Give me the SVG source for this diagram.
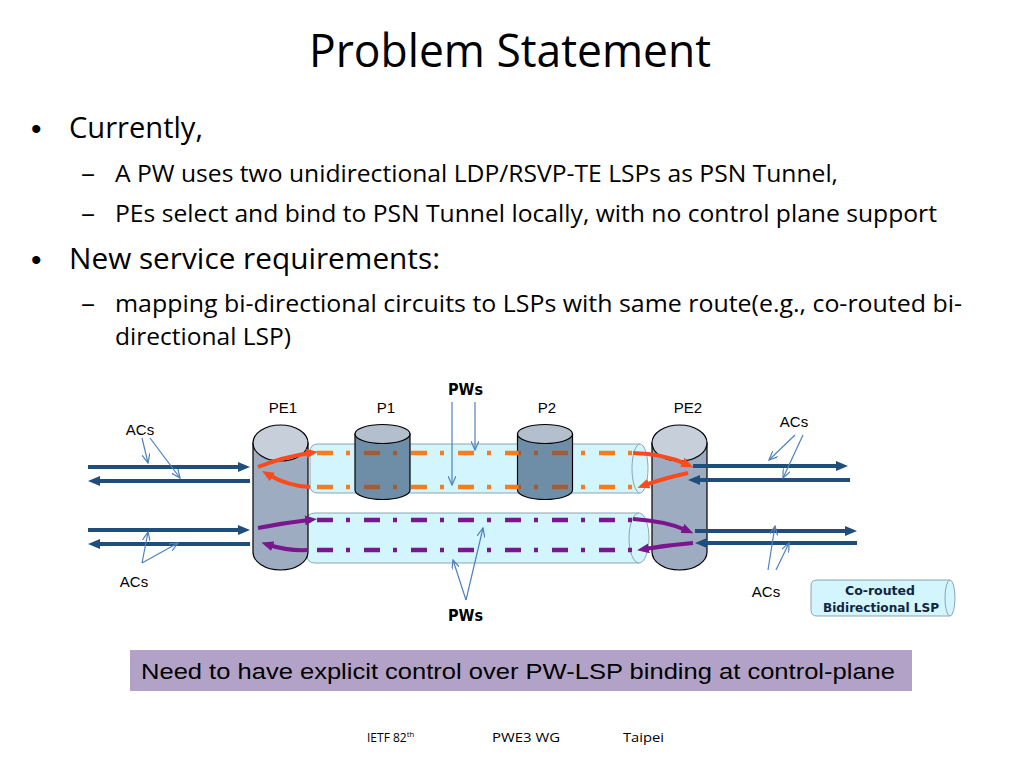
<svg xmlns="http://www.w3.org/2000/svg" width="1024" height="768" viewBox="0 0 1024 768">
<style>
.cal{font-family:"Open Sans","Liberation Sans",sans-serif;fill:#000}
.bul{font-family:"Liberation Sans",Arial,sans-serif;font-size:30px;fill:#000}
.lbl{font-family:"Liberation Sans",Arial,sans-serif;font-size:15px;fill:#000}
.pw{font-family:"DejaVu Sans","Liberation Sans",sans-serif;font-size:15px;font-weight:bold;fill:#000}
.cyl{stroke:#000;stroke-width:1.2}
.tube{fill:#d3f5fd;stroke:#7f9bab;stroke-width:0.9}
.ac{stroke:#1f4e7d;stroke-width:4;fill:none;marker-end:url(#mAC)}
.ptr{stroke:#4f81bd;stroke-width:1.2;fill:none;marker-end:url(#mPtr)}
.or{stroke:#f57d1f;stroke-width:4.5;fill:none;stroke-dasharray:16 13 4 14}
.br{stroke:#9a5e3c;stroke-width:4.5;fill:none;stroke-dasharray:16 13 4 14}
.pu{stroke:#7a168e;stroke-width:4.5;fill:none;stroke-dasharray:16 13 4 14}
.oa{stroke:#fb4a1c;stroke-width:4;fill:none;marker-end:url(#mOr)}
.pa{stroke:#7a168e;stroke-width:4;fill:none;marker-end:url(#mPu)}
</style>
<defs>
<marker id="mAC" viewBox="0 0 12 10" refX="4" refY="5" markerWidth="12" markerHeight="10" markerUnits="userSpaceOnUse" orient="auto"><path d="M0,0 L12,5 L0,10 Z" fill="#1f4e7d"/></marker>
<marker id="mOr" viewBox="0 0 12 10" refX="4" refY="5" markerWidth="12" markerHeight="10" markerUnits="userSpaceOnUse" orient="auto"><path d="M0,0 L12,5 L0,10 Z" fill="#fb4a1c"/></marker>
<marker id="mPu" viewBox="0 0 12 10" refX="4" refY="5" markerWidth="12" markerHeight="10" markerUnits="userSpaceOnUse" orient="auto"><path d="M0,0 L12,5 L0,10 Z" fill="#7a168e"/></marker>
<marker id="mPtr" viewBox="0 0 10 8" refX="9" refY="4" markerWidth="10" markerHeight="8" markerUnits="userSpaceOnUse" orient="auto"><path d="M0,0 L9,4 L0,8" fill="none" stroke="#4f81bd" stroke-width="1.2"/></marker>
<clipPath id="clipP">
<rect x="356" y="440" width="53" height="60"/>
<rect x="518.5" y="440" width="53" height="60"/>
</clipPath>
</defs>
<rect width="1024" height="768" fill="#fff"/>

<g id="title"><text class="cal" x="309" y="67" font-size="45" textLength="402" lengthAdjust="spacingAndGlyphs">Problem Statement</text></g>

<g id="bullets">
<text class="bul" x="31" y="139">•</text>
<text class="cal" x="69" y="138" font-size="29" textLength="134" lengthAdjust="spacingAndGlyphs">Currently,</text>
<text class="cal" x="81" y="182" font-size="24" textLength="14" lengthAdjust="spacingAndGlyphs">–</text>
<text class="cal" x="115" y="182" font-size="24" textLength="723" lengthAdjust="spacingAndGlyphs">A PW uses two unidirectional LDP/RSVP-TE LSPs as PSN Tunnel,</text>
<text class="cal" x="81" y="222" font-size="24" textLength="14" lengthAdjust="spacingAndGlyphs">–</text>
<text class="cal" x="115" y="222" font-size="24" textLength="822" lengthAdjust="spacingAndGlyphs">PEs select and bind to PSN Tunnel locally, with no control plane support</text>
<text class="bul" x="31" y="270">•</text>
<text class="cal" x="69" y="269" font-size="29" textLength="371" lengthAdjust="spacingAndGlyphs">New service requirements:</text>
<text class="cal" x="81" y="312" font-size="24" textLength="14" lengthAdjust="spacingAndGlyphs">–</text>
<text class="cal" x="115" y="312" font-size="24" textLength="847" lengthAdjust="spacingAndGlyphs">mapping bi-directional circuits to LSPs with same route(e.g., co-routed bi-</text>
<text class="cal" x="115" y="345" font-size="24" textLength="176" lengthAdjust="spacingAndGlyphs">directional LSP)</text>
</g>

<g id="tube-upper">
<path class="tube" d="M640,444 L318,444 Q310,444 310,452 L310,485 Q310,493 318,493 L640,493"/>
<ellipse class="tube" cx="640" cy="468.5" rx="8" ry="24.5" fill="#e2f9fe"/>
</g>
<g id="tube-lower">
<path class="tube" d="M639,513 L315,513 Q307,513 307,521 L307,555 Q307,563 315,563 L639,563"/>
<ellipse class="tube" cx="639" cy="538" rx="10" ry="25" fill="#e2f9fe"/>
</g>

<g id="P1">
<path class="cyl" d="M355,434 L355,490 A27.5,9.5 0 0 0 410,490 L410,434 Z" fill="#6e8ea8"/>
<ellipse class="cyl" cx="382.5" cy="434" rx="27.5" ry="9.5" fill="#b3bfcc"/>
</g>
<g id="P2">
<path class="cyl" d="M517.5,434 L517.5,490 A27.5,9.5 0 0 0 572.5,490 L572.5,434 Z" fill="#6e8ea8"/>
<ellipse class="cyl" cx="545" cy="434" rx="27.5" ry="9.5" fill="#b3bfcc"/>
</g>

<g id="lsps">
<line class="or" x1="317" y1="453" x2="633" y2="453"/>
<line class="or" x1="317" y1="487" x2="633" y2="487"/>
<g clip-path="url(#clipP)">
<line class="br" x1="317" y1="453" x2="633" y2="453"/>
<line class="br" x1="317" y1="487" x2="633" y2="487"/>
</g>
<line class="pu" x1="317" y1="520" x2="633" y2="520"/>
<line class="pu" x1="317" y1="550" x2="633" y2="550"/>
</g>

<g id="PE1">
<path class="cyl" d="M253,443 L253,552 A27.5,18 0 0 0 308,552 L308,443 Z" fill="#9dacc0"/>
<ellipse class="cyl" cx="280.5" cy="443" rx="27.5" ry="18" fill="#c6cfda"/>
</g>
<g id="PE2">
<path class="cyl" d="M652,443 L652,552 A27.5,18 0 0 0 707,552 L707,443 Z" fill="#9dacc0"/>
<ellipse class="cyl" cx="679.5" cy="443" rx="27.5" ry="18" fill="#c6cfda"/>
</g>

<g id="connectors">
<path class="oa" d="M258,467 Q283,457 310,453"/>
<path class="oa" d="M310,487 Q288,486 269,475"/>
<path class="pa" d="M258,528 Q283,523 309,520"/>
<path class="pa" d="M308,550 Q288,551 269,545"/>
<path class="oa" d="M633,453 Q665,454 686,464"/>
<path class="oa" d="M688,473 Q665,478 645,485"/>
<path class="pa" d="M633,519 Q665,521 686,530"/>
<path class="pa" d="M693,543 Q668,545 645,549"/>

<path class="ac" d="M88,467 L242,467"/>
<path class="ac" d="M250,481 L96,481"/>
<path class="ac" d="M88,530 L242,530"/>
<path class="ac" d="M250,544 L96,544"/>
<path class="ac" d="M693,466 L840,466"/>
<path class="ac" d="M850,480 L696,480"/>
<path class="ac" d="M695,531 L849,531"/>
<path class="ac" d="M857,543 L703,543"/>

<path class="ptr" d="M142,438 L148,463"/>
<path class="ptr" d="M150,438 L180,478"/>
<path class="ptr" d="M142,563 L148,532"/>
<path class="ptr" d="M142,563 L178,543"/>
<path class="ptr" d="M795,435 L769,460"/>
<path class="ptr" d="M803,435 L783,478"/>
<path class="ptr" d="M768,570 L775,526"/>
<path class="ptr" d="M776,570 L789,543"/>
<path class="ptr" d="M452,402 L452,485"/>
<path class="ptr" d="M475,402 L475,450"/>
<path class="ptr" d="M466,600 L483,528"/>
<path class="ptr" d="M466,600 L453,560"/>
</g>

<g id="labels">
<text class="lbl" x="283" y="413" text-anchor="middle">PE1</text>
<text class="lbl" x="386" y="413" text-anchor="middle">P1</text>
<text class="lbl" x="547" y="413" text-anchor="middle">P2</text>
<text class="lbl" x="688" y="413" text-anchor="middle">PE2</text>
<text class="lbl" x="140" y="435" text-anchor="middle">ACs</text>
<text class="lbl" x="134" y="587" text-anchor="middle">ACs</text>
<text class="lbl" x="794" y="427" text-anchor="middle">ACs</text>
<text class="lbl" x="766" y="597" text-anchor="middle">ACs</text>
<text class="pw" x="448" y="395" textLength="35" lengthAdjust="spacingAndGlyphs">PWs</text>
<text class="pw" x="448" y="621" textLength="35" lengthAdjust="spacingAndGlyphs">PWs</text>
</g>

<g id="legend">
<path class="tube" d="M950,580 L817,580 Q811,580 811,586 L811,610 Q811,616 817,616 L950,616"/>
<ellipse class="tube" cx="950" cy="598" rx="5" ry="18" fill="#e2f9fe"/>
<text x="880" y="595" text-anchor="middle" font-family="DejaVu Sans, Liberation Sans, sans-serif" font-size="12" font-weight="bold" fill="#10253f" textLength="70" lengthAdjust="spacingAndGlyphs">Co-routed</text>
<text x="823" y="612" font-family="DejaVu Sans, Liberation Sans, sans-serif" font-size="12" font-weight="bold" fill="#10253f" textLength="116" lengthAdjust="spacingAndGlyphs">Bidirectional LSP</text>
</g>

<g id="banner">
<rect x="130" y="650" width="782" height="41" fill="#b3a2c7"/>
<text x="141" y="679" font-family="Liberation Sans, Arial, sans-serif" font-size="22" fill="#000" textLength="754" lengthAdjust="spacingAndGlyphs">Need to have explicit control over PW-LSP binding at control-plane</text>
</g>

<g id="footer">
<text class="cal" x="367" y="742" font-size="12">IETF 82<tspan font-size="8" dy="-5">th</tspan></text>
<text class="cal" x="492" y="742" font-size="12" textLength="68" lengthAdjust="spacingAndGlyphs">PWE3 WG</text>
<text class="cal" x="623" y="742" font-size="12" textLength="41" lengthAdjust="spacingAndGlyphs">Taipei</text>
</g>
</svg>
